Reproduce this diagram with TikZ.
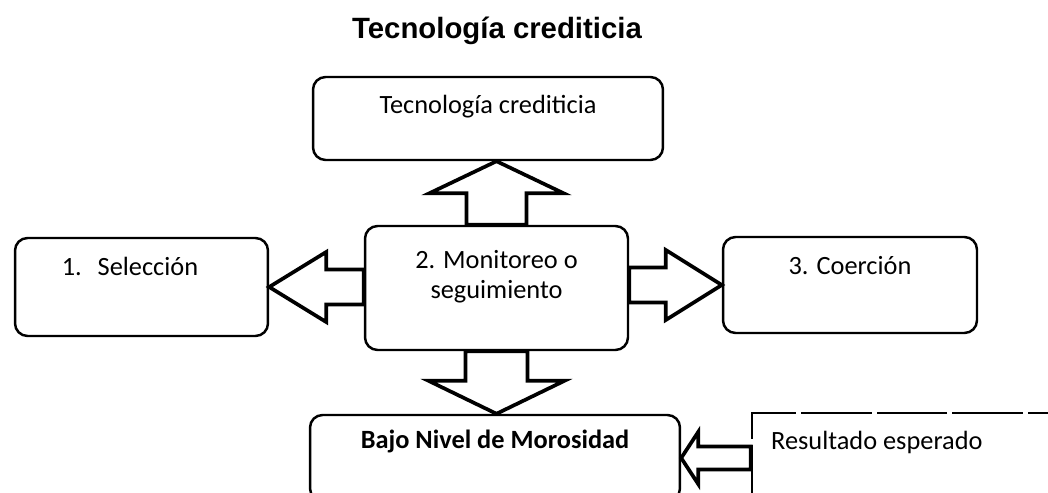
\documentclass[tikz,border=0pt]{standalone}
\usepackage{fontspec}
\setmainfont{Carlito}
\newfontfamily\titlefont{Liberation Sans}
\usetikzlibrary{positioning}

\tikzset{
    box/.style={draw, line width=1.4pt, rounded corners=0.25cm, inner sep=0pt},
    resbox/.style={draw, line width=1.4pt, dash pattern=on 40pt off 3pt, inner sep=0pt},
    lbl/.style={inner sep=0pt, font=\fontsize{15}{17}\selectfont, text height=0.7em, text depth=0.2em},
    blk/.style={draw, line width=2.1pt, fill=white, line join=miter},
}

\begin{document}
\begin{tikzpicture}[x=0.02cm, y=-0.02cm]
        \useasboundingbox (0,0) rectangle (1048,493);
        \clip (0,0) rectangle (1048,493);

        % Title
        \node[font=\titlefont\bfseries\fontsize{16.7}{20}\selectfont] (title) at (497,31) {Tecnología crediticia};

        % Boxes
        \node[box, minimum width=7cm, minimum height=1.66cm] (tec) at (488,118.5) {};
        \node[box, minimum width=5.06cm, minimum height=1.96cm] (sel) at (141.5,287) {};
        \node[box, minimum width=5.26cm, minimum height=2.48cm] (mid) at (496.5,288) {};
        \node[box, minimum width=5.08cm, minimum height=1.92cm] (coe) at (850,285) {};
        \node[box, minimum width=7.4cm, minimum height=1.72cm] (bajo) at (495,458) {};
        \node[resbox, minimum width=6.36cm, minimum height=1.76cm] (res) at (911,457) {};

        % Box texts
        \node[lbl, below=0.51cm of tec.north] (tectxt) {Tecnología crediticia};
        \node[lbl, below=0.52cm of sel.north, xshift=-0.23cm] (seltxt) {1.\hspace{0.6em}Selección};
        \node[inner sep=0pt, font=\fontsize{15}{17}\selectfont, align=center, below=0.50cm of mid.north] (midtxt) {2. Monitoreo o\\seguimiento};
        \node[lbl, below=0.53cm of coe.north] (coetxt) {3. Coerción};
        \node[lbl, font=\fontsize{15}{17}\selectfont\bfseries, below=0.44cm of bajo.north] (bajotxt) {Bajo Nivel de Morosidad};
        \node[lbl, below right=0.50cm and 0.4cm of res.north west] (restxt) {Resultado esperado};

        % Block arrows out of the middle box
        \draw[blk] (sel.east) -- ++(57,-35) -- ++(0,17.5) coordinate (la) -- (la -| mid.west)
            -- ++(0,35) coordinate (lb) -- (la |- lb) -- ++(0,17.5) -- cycle;
        \draw[blk] (coe.west) -- ++(-56,-35) -- ++(0,17.5) coordinate (ra) -- (ra -| mid.east)
            -- ++(0,35) coordinate (rb) -- (ra |- rb) -- ++(0,17.5) -- cycle;
        \draw[blk] (mid.north |- tec.south) -- ++(-67,32) -- ++(37,0) coordinate (ua) -- (ua |- mid.north)
            -- ++(60,0) coordinate (ub) -- (ub |- ua) -- ++(37,0) -- cycle;
        \draw[blk] (mid.south |- bajo.north) -- ++(-68,-33) -- ++(37,0) coordinate (da) -- (da |- mid.south)
            -- ++(62,0) coordinate (db) -- (db |- da) -- ++(37,0) -- cycle;

        % Expected result arrow
        \draw[blk] (bajo.east) -- ++(17,-26) -- ++(0,14.5) coordinate (ea) -- (ea -| res.west)
            -- ++(0,23) coordinate (eb) -- (ea |- eb) -- ++(0,14.5) -- cycle;
\end{tikzpicture}
\end{document}
